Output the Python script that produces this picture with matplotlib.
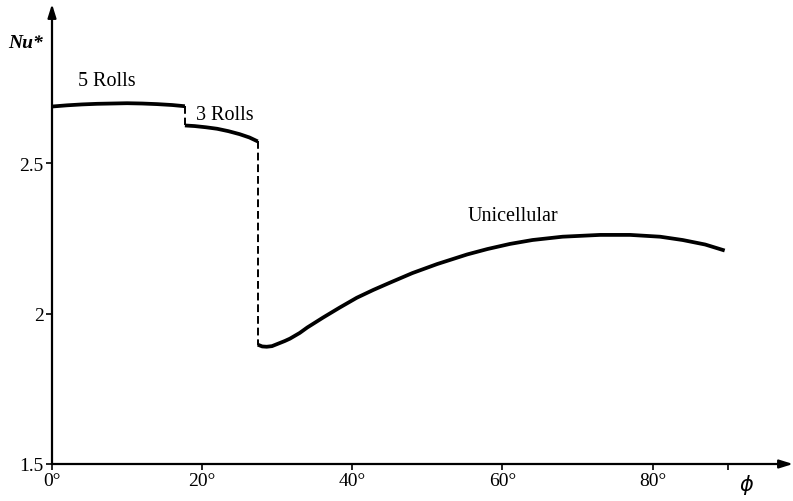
import numpy as np
import matplotlib.pyplot as plt

# 5 rolls branch
phi_5 = [0, 2, 4, 6, 8, 10, 12, 14, 16, 17.7]
nu_5 = [2.689, 2.693, 2.696, 2.698, 2.699, 2.700, 2.699, 2.697, 2.694, 2.690]

# 3 rolls branch
phi_3 = [17.7, 19, 20.5, 22, 23.5, 25, 26.3, 27.4]
nu_3 = [2.626, 2.624, 2.620, 2.615, 2.607, 2.597, 2.586, 2.573]

# unicellular branch
phi_u = [27.4, 28.0, 28.6, 29.3, 30.0, 31.0, 31.7, 33.0, 34.0, 36.1, 38.3, 40.6, 42.8, 45.0, 48.0,
         51.3, 55.3, 58, 61, 64, 68, 73, 77, 81, 84, 87, 89.6]
nu_u = [1.897, 1.891, 1.890, 1.892, 1.899, 1.909, 1.917, 1.936, 1.954, 1.987, 2.020, 2.053, 2.079, 2.103, 2.135,
        2.165, 2.197, 2.215, 2.232, 2.245, 2.256, 2.262, 2.262, 2.256, 2.245, 2.230, 2.210]

xticks = [0, 20, 40, 60, 80, 90]
xticklabels = ['0°', '20°', '40°', '60°', '80°', '']
yticks = [1.5, 2, 2.5]
yticklabels = ['1.5', '2', '2.5']

plt.rcParams['font.family'] = ['Liberation Serif', 'DejaVu Serif']

fig = plt.figure(figsize=(7.93, 5.02), dpi=100)
ax = fig.add_axes([52 / 793, 37 / 502, 1 - 52 / 793, (465 - 5) / 502])
ax.set_xlim(0, 98.7)
ax.set_ylim(1.5, 3.03)

for px, py in [(phi_5, nu_5), (phi_3, nu_3), (phi_u, nu_u)]:
    ax.plot(px, py, color='black', lw=2.7, solid_capstyle='butt', solid_joinstyle='round')

# dashed transitions
ax.plot([phi_5[-1], phi_3[0]], [nu_5[-1], nu_3[0]], color='black', lw=1.4, ls=(0, (4, 2)))
ax.plot([phi_3[-1], phi_u[0]], [nu_3[-1], nu_u[0]], color='black', lw=1.4, ls=(0, (4, 2)))

ax.text(7.3, 2.775, '5 Rolls', ha='center', va='center', fontsize=14.5)
ax.text(23.0, 2.663, '3 Rolls', ha='center', va='center', fontsize=14.5)
ax.text(61.4, 2.325, 'Unicellular', ha='center', va='center', fontsize=14.5)

for s in ax.spines.values():
    s.set_visible(False)
arrow = dict(arrowstyle='-|>,head_length=0.8,head_width=0.25', color='black', lw=1.6,
             shrinkA=0, shrinkB=0)
ax.annotate('', xy=(1.0, 0), xytext=(0, 0), xycoords='axes fraction', arrowprops=arrow)
ax.annotate('', xy=(0, 1.0), xytext=(0, 0), xycoords='axes fraction', arrowprops=arrow)

ax.set_xticks(xticks)
ax.set_xticklabels(xticklabels, fontsize=14)
ax.set_yticks(yticks)
ax.set_yticklabels(yticklabels, fontsize=14)
ax.tick_params(axis='both', direction='out', length=4, width=1.2, color='black')
ax.tick_params(axis='x', pad=2)
ax.tick_params(axis='y', pad=2)

ax.annotate(r'$\phi$', xy=(92.5, 0), xycoords=('data', 'axes fraction'), xytext=(0, -20),
            textcoords='offset pixels', ha='center', va='center', fontsize=15)
fig.text(26 / 793, 1 - 43 / 502, 'Nu*', ha='center', va='center', fontsize=14,
         style='italic', weight='bold')

fig.savefig('out.png', dpi=100)
